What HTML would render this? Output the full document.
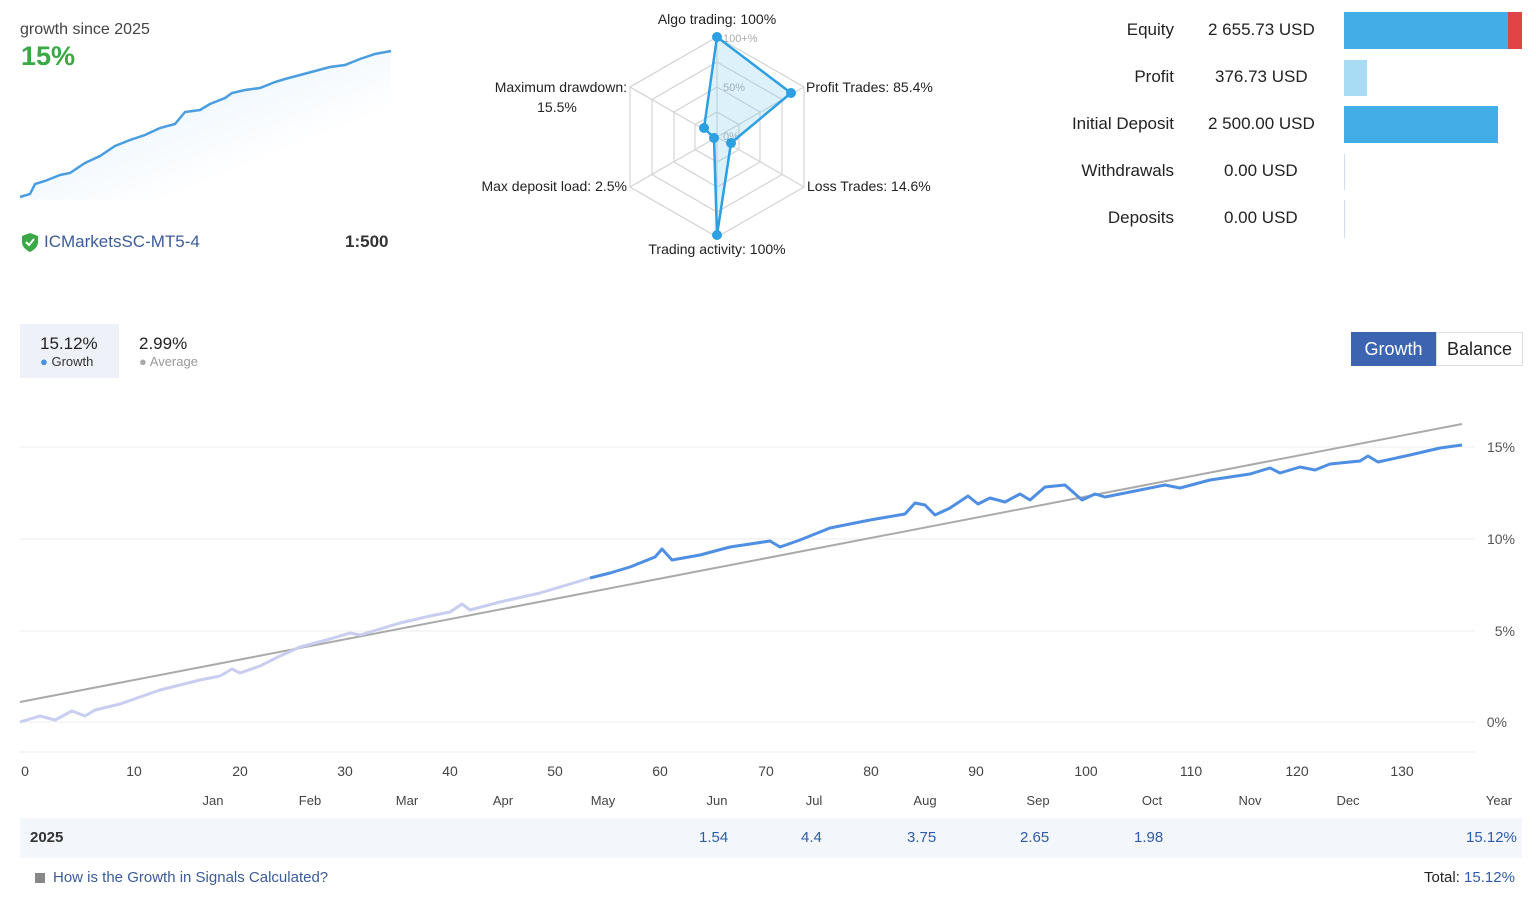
<!DOCTYPE html>
<html><head><meta charset="utf-8"><style>
body{margin:0;width:1536px;height:907px;background:#fff;font-family:"Liberation Sans","DejaVu Sans",sans-serif;position:relative;overflow:hidden;color:#222}
.a{position:absolute;white-space:nowrap}
</style></head><body>
<div class="a" style="left:20px;top:21px;font-size:16px;color:#444">growth since 2025</div>
<div class="a" style="left:21px;top:41px;font-size:27px;color:#3aa845;font-weight:bold">15%</div>
<svg class="a" style="left:0;top:0" width="420" height="270">
<defs><linearGradient id="g" x1="0" y1="0" x2="1" y2="1"><stop offset="0" stop-color="#dceefb"/><stop offset="0.7" stop-color="#fff"/></linearGradient></defs>
<path d="M20,197 L30,194 L35,184 L45,181 L60,175 L70,173 L85,163 L100,156 L115,146 L130,140 L145,135 L160,128 L175,124 L185,112 L200,110 L210,104 L225,98 L232,93 L245,90 L260,88 L275,82 L285,79 L300,75 L315,71 L330,67 L345,65 L360,59 L375,54 L391,51 L391,200 L20,200Z" fill="url(#g)"/>
<polyline fill="none" stroke="#4a9de0" stroke-width="2.5" points="20,197 30,194 35,184 45,181 60,175 70,173 85,163 100,156 115,146 130,140 145,135 160,128 175,124 185,112 200,110 210,104 225,98 232,93 245,90 260,88 275,82 285,79 300,75 315,71 330,67 345,65 360,59 375,54 391,51"/>
<path d="M22,236 l8,-3 l8,3 v6 c0,5 -4,8 -8,10 c-4,-2 -8,-5 -8,-10z" fill="#3aa845"/>
<polyline points="26,242 29,245 34,239" fill="none" stroke="#fff" stroke-width="2"/>
</svg>
<div class="a" style="left:44px;top:232px;font-size:17px;color:#3b5b9a">ICMarketsSC-MT5-4</div>
<div class="a" style="left:345px;top:232px;font-size:17px;color:#333;font-weight:bold">1:500</div>

<svg class="a" style="left:460px;top:0" width="500" height="270" font-size="14" font-family="Liberation Sans,sans-serif">
<g fill="none" stroke="#d4d4d4" stroke-width="1.2" transform="translate(257,137)">
<polygon points="0,-100 87,-50 87,50 0,100 -87,50 -87,-50"/>
<polygon points="0,-75 65,-37.5 65,37.5 0,75 -65,37.5 -65,-37.5"/>
<polygon points="0,-50 43,-25 43,25 0,50 -43,25 -43,-25"/>
<polygon points="0,-25 22,-12.5 22,12.5 0,25 -22,12.5 -22,-12.5"/>
<line x1="0" y1="-100" x2="0" y2="100"/><line x1="87" y1="-50" x2="-87" y2="50"/><line x1="87" y1="50" x2="-87" y2="-50"/>
</g>
<g fill="#aaa" font-size="11"><text x="263" y="42">100+%</text><text x="263" y="91">50%</text><text x="263" y="140">0%</text></g>
<polygon points="257,37 331,93 271,143 257,235 254,138 244,128" fill="rgba(120,200,240,0.25)" stroke="#2d9fe3" stroke-width="2.5" stroke-linejoin="round"/>
<g fill="#2d9fe3"><circle cx="257" cy="37" r="5"/><circle cx="331" cy="93" r="5"/><circle cx="271" cy="143" r="5"/><circle cx="257" cy="235" r="5"/><circle cx="254" cy="138" r="5"/><circle cx="244" cy="128" r="5"/></g>
<g fill="#222"><text x="257" y="24" text-anchor="middle">Algo trading: 100%</text>
<text x="346" y="92">Profit Trades: 85.4%</text>
<text x="347" y="191">Loss Trades: 14.6%</text>
<text x="257" y="254" text-anchor="middle">Trading activity: 100%</text>
<text x="167" y="191" text-anchor="end">Max deposit load: 2.5%</text>
<text x="167" y="92" text-anchor="end">Maximum drawdown:</text>
<text x="97" y="112" text-anchor="middle">15.5%</text></g>
</svg>

<div style="font-size:17px">
<div class="a" style="right:362px;top:20px">Equity</div><div class="a" style="left:1208px;top:20px">2 655.73 USD</div>
<div class="a" style="right:362px;top:67px">Profit</div><div class="a" style="left:1215px;top:67px">376.73 USD</div>
<div class="a" style="right:362px;top:114px">Initial Deposit</div><div class="a" style="left:1208px;top:114px">2 500.00 USD</div>
<div class="a" style="right:362px;top:161px">Withdrawals</div><div class="a" style="left:1224px;top:161px">0.00 USD</div>
<div class="a" style="right:362px;top:208px">Deposits</div><div class="a" style="left:1224px;top:208px">0.00 USD</div>
</div>
<div class="a" style="left:1344px;top:12px;width:164px;height:37px;background:#42aee8"></div>
<div class="a" style="left:1508px;top:12px;width:14px;height:37px;background:#e04444"></div>
<div class="a" style="left:1344px;top:60px;width:23px;height:36px;background:#a8dcf5"></div>
<div class="a" style="left:1344px;top:106px;width:154px;height:37px;background:#42aee8"></div>
<div class="a" style="left:1344px;top:154px;width:1px;height:36px;background:#cde"></div>
<div class="a" style="left:1344px;top:200px;width:1px;height:38px;background:#cde"></div>

<div class="a" style="left:20px;top:324px;width:99px;height:54px;background:#eef2f8"></div>
<div class="a" style="left:40px;top:334px;font-size:17px">15.12%</div>
<div class="a" style="left:40px;top:354px;font-size:13px;color:#333"><span style="color:#4a8fe0">●</span> Growth</div>
<div class="a" style="left:139px;top:334px;font-size:17px">2.99%</div>
<div class="a" style="left:139px;top:354px;font-size:13px;color:#999"><span style="color:#aaa">●</span> Average</div>
<div class="a" style="left:1351px;top:332px;width:85px;height:34px;background:#3d64b0;color:#fff;font-size:18px;line-height:34px;text-align:center">Growth</div>
<div class="a" style="left:1436px;top:332px;width:85px;height:32px;border:1px solid #ddd;color:#222;font-size:18px;line-height:32px;text-align:center">Balance</div>

<svg class="a" style="left:0;top:390px" width="1536" height="430" font-size="14" font-family="Liberation Sans,sans-serif">
<g stroke="#eee" stroke-width="1"><line x1="20" x2="1475" y1="57" y2="57"/><line x1="20" x2="1475" y1="149" y2="149"/><line x1="20" x2="1475" y1="241" y2="241"/><line x1="20" x2="1475" y1="332" y2="332"/><line x1="20" x2="1475" y1="362" y2="362"/></g>
<g fill="#555" text-anchor="end"><text x="1515" y="62">15%</text><text x="1515" y="154">10%</text><text x="1515" y="246">5%</text><text x="1507" y="337">0%</text></g>
<line x1="20" y1="312" x2="1462" y2="34" stroke="#aaa" stroke-width="2"/>
<polyline fill="none" stroke="#c9cdf0" stroke-width="3" stroke-linejoin="round" points="20,332 40,326 55,330 72,321 85,326 95,320 120,314 140,307 160,300 180,295 200,290 220,286 232,279 240,283 260,276 280,266 300,257 330,249 350,243 360,245 380,239 400,233 430,226 450,222 462,214 470,220 500,212 540,203 560,197 590,188"/>
<polyline fill="none" stroke="#4f8fe3" stroke-width="3" stroke-linejoin="round" points="590,188 610,183 630,177 655,167 662,159 672,170 700,165 730,157 770,151 780,157 800,150 830,138 870,130 905,124 915,113 925,115 935,125 950,118 968,106 978,114 990,108 1005,112 1020,104 1030,110 1045,97 1065,95 1082,110 1095,104 1105,107 1140,100 1165,95 1180,98 1210,90 1250,84 1270,78 1280,83 1300,77 1315,80 1330,74 1360,71 1368,66 1378,72 1410,65 1440,58 1462,55"/>
<g fill="#444" text-anchor="middle">
<text x="25" y="386">0</text><text x="134" y="386">10</text><text x="240" y="386">20</text><text x="345" y="386">30</text><text x="450" y="386">40</text><text x="555" y="386">50</text><text x="660" y="386">60</text><text x="766" y="386">70</text><text x="871" y="386">80</text><text x="976" y="386">90</text><text x="1086" y="386">100</text><text x="1191" y="386">110</text><text x="1297" y="386">120</text><text x="1402" y="386">130</text>
</g>
<g fill="#444" text-anchor="middle" font-size="13"><text x="213" y="415">Jan</text><text x="310" y="415">Feb</text><text x="407" y="415">Mar</text><text x="503" y="415">Apr</text><text x="603" y="415">May</text><text x="717" y="415">Jun</text><text x="814" y="415">Jul</text><text x="925" y="415">Aug</text><text x="1038" y="415">Sep</text><text x="1152" y="415">Oct</text><text x="1250" y="415">Nov</text><text x="1348" y="415">Dec</text><text x="1499" y="415">Year</text></g>
</svg>
<div class="a" style="left:20px;top:818px;width:1502px;height:40px;background:#f3f6fb"></div>
<div class="a" style="left:30px;top:829px;font-size:15px;font-weight:bold;color:#333">2025</div>
<div style="font-size:15px;color:#2e5ca8">
<div class="a" style="left:699px;top:829px">1.54</div><div class="a" style="left:801px;top:829px">4.4</div><div class="a" style="left:907px;top:829px">3.75</div><div class="a" style="left:1020px;top:829px">2.65</div><div class="a" style="left:1134px;top:829px">1.98</div><div class="a" style="left:1466px;top:829px">15.12%</div>
</div>
<div class="a" style="left:35px;top:873px;width:10px;height:10px;background:#888"></div>
<div class="a" style="left:53px;top:869px;font-size:15px;color:#3b5b9a">How is the Growth in Signals Calculated?</div>
<div class="a" style="left:1424px;top:869px;font-size:15px;color:#222">Total: <span style="color:#2e5ca8">15.12%</span></div>
</body></html>
